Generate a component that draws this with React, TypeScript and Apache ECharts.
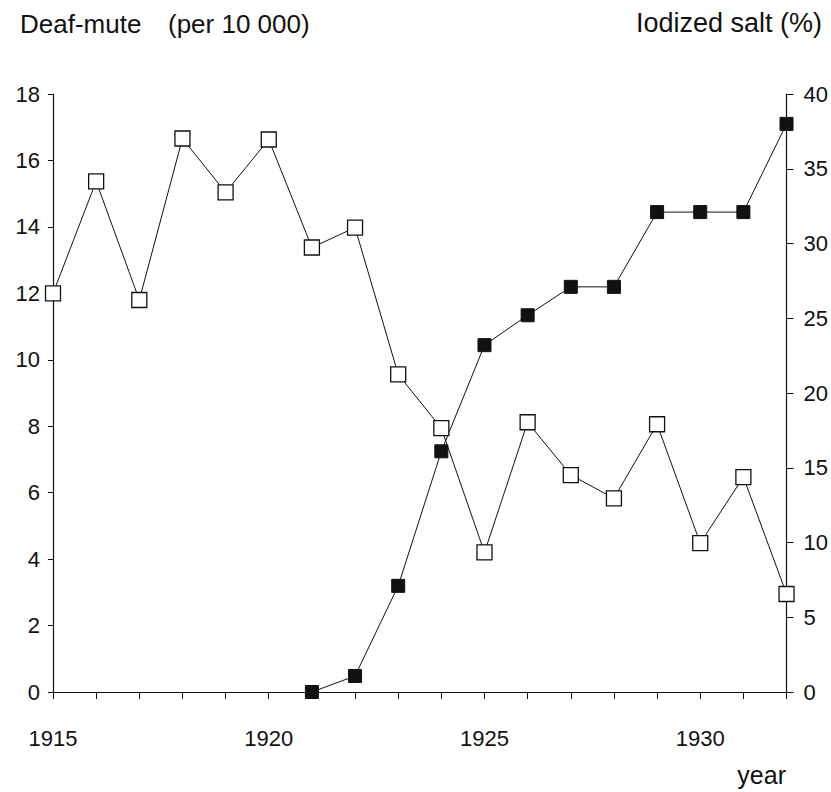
import React, { useEffect, useRef } from "react";
import * as echarts from "echarts";

const years = [1915, 1916, 1917, 1918, 1919, 1920, 1921, 1922, 1923, 1924, 1925, 1926, 1927, 1928, 1929, 1930, 1931, 1932];
const deafMute = [12.0, 15.37, 11.8, 16.66, 15.04, 16.63, 13.38, 13.98, 9.56, 7.94, 4.2, 8.12, 6.53, 5.83, 8.06, 4.48, 6.47, 2.95];
const iodizedSalt: (number | null)[] = [null, null, null, null, null, null, 0, 1.07, 7.1, 16.1, 23.2, 25.2, 27.1, 27.1, 32.1, 32.1, 32.1, 38.0];
const xLabelYears = [1915, 1920, 1925, 1930];

const FONT = "Liberation Sans, Arial, sans-serif";

export default function App() {
  const ref = useRef<HTMLDivElement>(null);
  useEffect(() => {
    document.body.style.margin = "0";
    const chart = echarts.init(ref.current!, null, { renderer: "svg" });
    chart.setOption({
      animation: false,
      backgroundColor: "#ffffff",
      grid: { left: 53, right: 44, top: 94, bottom: 100 },
      xAxis: {
        type: "value",
        min: 1915,
        max: 1932,
        interval: 1,
        axisLine: { lineStyle: { color: "#111", width: 1.2 } },
        axisTick: { show: true, length: 7, lineStyle: { color: "#111" } },
        splitLine: { show: false },
        axisLabel: {
          color: "#111",
          fontFamily: FONT,
          fontSize: 22,
          margin: 35,
          formatter: (v: number) => (xLabelYears.includes(v) ? String(v) : ""),
        },
      },
      yAxis: [
        {
          type: "value",
          min: 0,
          max: 18,
          interval: 2,
          position: "left",
          axisLine: { show: true, lineStyle: { color: "#111", width: 1.2 } },
          axisTick: { show: true, length: 5, lineStyle: { color: "#111" } },
          splitLine: { show: false },
          axisLabel: { color: "#111", fontFamily: FONT, fontSize: 22, margin: 13 },
        },
        {
          type: "value",
          min: 0,
          max: 40,
          interval: 5,
          position: "right",
          axisLine: { show: true, lineStyle: { color: "#111", width: 1.2 } },
          axisTick: { show: true, length: 7, lineStyle: { color: "#111" } },
          splitLine: { show: false },
          axisLabel: { color: "#111", fontFamily: FONT, fontSize: 22, margin: 17 },
        },
      ],
      series: [
        {
          name: "Iodized salt",
          type: "line",
          yAxisIndex: 1,
          data: years.map((y, i) => [y, iodizedSalt[i]]),
          symbol: "rect",
          symbolSize: 13,
          itemStyle: { color: "#111", borderColor: "#111", borderWidth: 1 },
          lineStyle: { color: "#111", width: 1 },
          connectNulls: false,
          z: 3,
        },
        {
          name: "Deaf-mute",
          type: "line",
          yAxisIndex: 0,
          data: years.map((y, i) => [y, deafMute[i]]),
          symbol: "rect",
          symbolSize: 15,
          itemStyle: { color: "#ffffff", borderColor: "#111", borderWidth: 1.3 },
          lineStyle: { color: "#111", width: 1 },
          z: 4,
        },
      ],
      graphic: [
        {
          type: "text",
          x: 20,
          y: 24,
          style: { text: "Deaf-mute", fontFamily: FONT, fontSize: 26, fill: "#111", verticalAlign: "middle" },
        },
        {
          type: "text",
          x: 168,
          y: 24,
          style: { text: "(per 10 000)", fontFamily: FONT, fontSize: 26, fill: "#111", verticalAlign: "middle" },
        },
        {
          type: "text",
          x: 822,
          y: 23,
          style: { text: "Iodized salt (%)", fontFamily: FONT, fontSize: 27, fill: "#111", align: "right", verticalAlign: "middle" },
        },
        {
          type: "text",
          x: 786,
          y: 775,
          style: { text: "year", fontFamily: FONT, fontSize: 25, fill: "#111", align: "right", verticalAlign: "middle" },
        },
      ],
    });
    return () => chart.dispose();
  }, []);
  return <div ref={ref} style={{ position: "absolute", left: 0, top: 0, width: 831, height: 792 }} />;
}
